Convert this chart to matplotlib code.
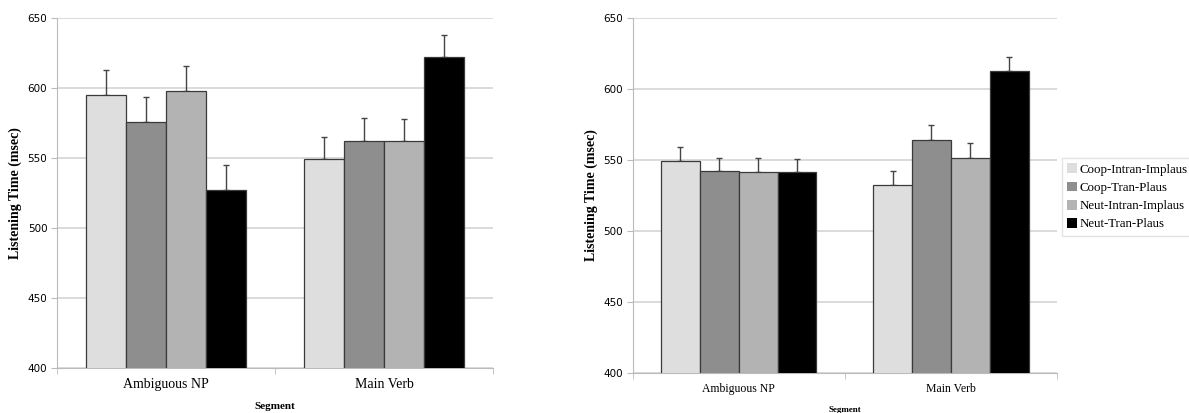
import numpy as np
import matplotlib.pyplot as plt
from matplotlib.ticker import FixedLocator

segments = ["Ambiguous NP", "Main Verb"]
conditions = ["Coop-Intran-Implaus", "Coop-Tran-Plaus", "Neut-Intran-Implaus", "Neut-Tran-Plaus"]

# left panel: means and upper error per condition (one value per segment)
left_means = [[595, 549], [576, 562.5], [598, 562], [527.5, 622]]
left_err = [[18, 16], [18, 16], [18, 16], [17.5, 16]]

# right panel
right_means = [[549.5, 532.5], [542, 564.5], [541.5, 551.5], [541.5, 612.5]]
right_err = [[9.5, 10], [9.5, 10], [10, 10.5], [9.5, 10]]

colors = ["#dedede", "#8e8e8e", "#b3b3b3", "#000000"]
serif = "Liberation Serif"


def draw(ax, means, errs, cat_size, seg_size, ylab_size):
    x = np.arange(len(segments))
    w = 0.183
    for i, cond in enumerate(conditions):
        pos = x + (i - 1.5) * w
        ax.bar(pos, means[i], w, color=colors[i], edgecolor="#3a3a3a",
               linewidth=0.9, label=cond, zorder=3)
        ax.errorbar(pos, means[i], yerr=[np.zeros(len(x)), errs[i]], fmt="none",
                    ecolor="#444444", elinewidth=1, capsize=2.5, capthick=1, zorder=2)
    ax.set_ylim(400, 650)
    ax.set_xlim(-0.5, 1.5)
    ax.set_yticks(range(400, 651, 50))
    ax.yaxis.grid(True, color="#d8d8d8", linewidth=1.3, zorder=0)
    ax.set_axisbelow(True)
    for s in ["top", "right"]:
        ax.spines[s].set_visible(False)
    for s in ["left", "bottom"]:
        ax.spines[s].set_color("#bbbbbb")
    ax.set_xticks(x)
    ax.set_xticklabels(segments, fontfamily=serif, fontsize=cat_size)
    ax.tick_params(axis="x", which="major", length=0, pad=7)
    ax.xaxis.set_minor_locator(FixedLocator([-0.5, 0.5, 1.5]))
    ax.tick_params(axis="x", which="minor", length=4, color="#bbbbbb")
    ax.tick_params(axis="y", length=4, color="#bbbbbb", labelsize=7.5, pad=3)
    ax.set_xlabel("Segment", fontfamily=serif, fontweight="bold", fontsize=seg_size,
                  labelpad=8)
    ax.set_ylabel("Listening Time (msec)", fontfamily=serif, fontweight="bold",
                  fontsize=ylab_size)


fig = plt.figure(figsize=(11.89, 4.13), dpi=100)
ax1 = fig.add_axes([0.048, 0.109, 0.367, 0.847])
ax2 = fig.add_axes([0.532, 0.097, 0.357, 0.859])

draw(ax1, left_means, left_err, 10, 8, 10)
draw(ax2, right_means, right_err, 8.5, 6.5, 10)

handles, labels = ax2.get_legend_handles_labels()
leg = fig.legend(handles, labels, loc="upper left", bbox_to_anchor=(0.893, 0.617),
                 prop={"family": serif, "size": 9.3}, frameon=True, fancybox=False,
                 handlelength=0.8, handleheight=0.8, handletextpad=0.2,
                 labelspacing=0.45, borderpad=0.4, borderaxespad=0)
leg.get_frame().set_edgecolor("#dddddd")
for h in leg.legend_handles:
    h.set_edgecolor("none")

fig.savefig("out.png", dpi=100)
